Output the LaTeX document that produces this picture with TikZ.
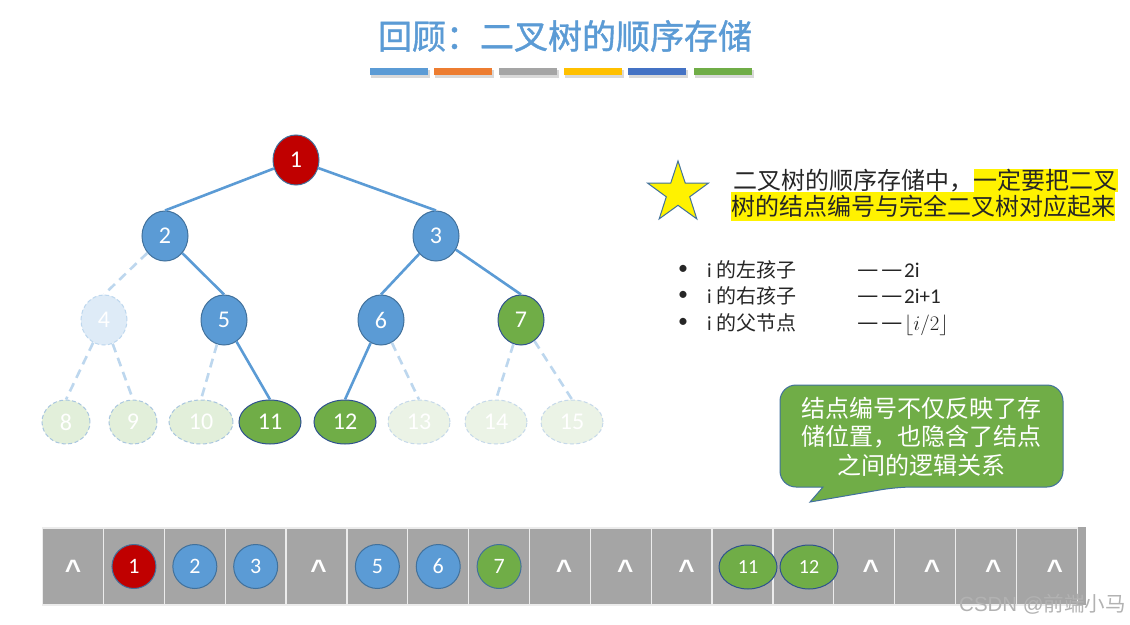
\documentclass[tikz,border=0pt]{standalone}
\usepackage{fontspec}
\setmainfont{Carlito}
\newfontfamily\cjk{Noto Sans CJK SC}
\newfontfamily\cjkbold[FakeBold=1.2]{Noto Sans CJK SC}
\newfontfamily\wmfont{Liberation Sans}
\usetikzlibrary{shapes.geometric}
\definecolor{tblue}{HTML}{5B9BD5}
\definecolor{nborder}{HTML}{41719C}
\definecolor{tred}{HTML}{C00000}
\definecolor{tgreen}{HTML}{70AD47}
\definecolor{gborder}{HTML}{2F528F}
\definecolor{lblue}{HTML}{DEEBF7}
\definecolor{dashc}{HTML}{BDD7EE}
\definecolor{ghostA}{HTML}{A9C6DF}
\definecolor{ghostB}{HTML}{C6D9EA}
\definecolor{lgreenA}{HTML}{E2EFDA}
\definecolor{lgreenB}{HTML}{EBF3E6}
\definecolor{cellgray}{HTML}{A5A5A5}
\definecolor{barorange}{HTML}{ED7D31}
\definecolor{bargray}{HTML}{A5A5A5}
\definecolor{baryellow}{HTML}{FFC000}
\definecolor{bardblue}{HTML}{4472C4}
\definecolor{textdark}{HTML}{262626}
\begin{document}
\begin{tikzpicture}[x=1pt,y=-1pt,
  tnode/.style={ellipse, draw=nborder, line width=1pt, text=white, inner sep=0pt,
    minimum width=46pt, minimum height=50pt, font=\fontsize{24}{26}\selectfont},
  leaf/.style={tnode, minimum width=62pt, minimum height=44pt},
  ghostnode/.style={dashed, dash pattern=on 4pt off 2.5pt},
  tedge/.style={draw=tblue, line width=2.6pt},
  dedge/.style={draw=dashc, line width=2.6pt, dash pattern=on 9pt off 6pt},
  cellbox/.style={rectangle, fill=cellgray, draw=white!85!gray, line width=1.3pt,
    minimum width=60.85pt, minimum height=77pt, inner sep=0pt},
  caret/.style={anchor=base, inner sep=0pt, text=white, font=\wmfont\bfseries\fontsize{28}{28}\selectfont},
  anode/.style={ellipse, draw=nborder, line width=1pt, text=white, inner sep=0pt,
    minimum width=44pt, minimum height=44pt, font=\fontsize{22}{24}\selectfont},
  rtext/.style={anchor=base west, inner sep=0pt, text=textdark, font=\fontsize{20}{22}\selectfont},
  dashtext/.style={anchor=base west, inner sep=0pt, text=textdark, font=\fontsize{21}{22}\selectfont},
]
\useasboundingbox (0,0) rectangle (1130,624);
\fill[white] (0,0) rectangle (1130,624);

% title
\node[font=\cjkbold\fontsize{34}{36}\selectfont, text=tblue] (title) at (565,36) {回顾：二叉树的顺序存储};
\foreach \x/\c in {370/tblue,434/barorange,499/bargray,564/baryellow,628/bardblue,694/tgreen} {
  \fill[black, opacity=0.15] (\x+1,70) rectangle (\x+60,77.5);
  \fill[\c] (\x,68) rectangle (\x+58,75);
}

% tree nodes
\node[tnode, fill=tred] (n1) at (296,160) {1};
\node[tnode, fill=tblue] (n2) at (165,236) {2};
\node[tnode, fill=tblue] (n3) at (436,236) {3};
\node[tnode, ghostnode, fill=lblue, draw=dashc] (n4) at (104,320) {4};
\node[tnode, fill=tblue] (n5) at (224,320) {5};
\node[tnode, fill=tblue] (n6) at (381,320) {6};
\node[tnode, fill=tgreen, draw=gborder] (n7) at (521,320) {7};
\node[leaf, ghostnode, fill=lgreenA, draw=ghostA, minimum width=48pt] (n8) at (66,422) {8};
\node[leaf, ghostnode, fill=lgreenA, draw=ghostA, minimum width=48pt] (n9) at (133,422) {9};
\node[leaf, ghostnode, fill=lgreenA, draw=ghostA, minimum width=64pt] (n10) at (201,422) {10};
\node[leaf, fill=tgreen, draw=gborder] (n11) at (270,422) {11};
\node[leaf, fill=tgreen, draw=gborder] (n12) at (345,422) {12};
\node[leaf, ghostnode, fill=lgreenB, draw=ghostB] (n13) at (419,422) {13};
\node[leaf, ghostnode, fill=lgreenB, draw=ghostB] (n14) at (496,422) {14};
\node[leaf, ghostnode, fill=lgreenB, draw=ghostB] (n15) at (572,422) {15};

% tree edges
\draw[tedge] (n1) -- (n2.north);
\draw[tedge] (n1) -- (n3.north);
\draw[tedge] (n2) -- (n5.north);
\draw[tedge] (n3) -- (n6.north);
\draw[tedge] (n3) -- (n7.north);
\draw[tedge] (n5) -- (n11.north);
\draw[tedge] (n6) -- (n12.north);
\draw[dedge] (n2) -- (n4.north);
\draw[dedge] (n4) -- (n8.north);
\draw[dedge] (n4) -- (n9.north);
\draw[dedge] (n5) -- (n10.north);
\draw[dedge] (n6) -- (n13.north);
\draw[dedge] (n7) -- (n14.north);
\draw[dedge] (n7) -- (n15.north);

% star and note
\node[star, star points=5, star point ratio=2.6, minimum size=64pt, inner sep=0pt,
  fill=yellow, draw=nborder, line width=1pt] (star) at (678,193) {};
\node[anchor=west, inner sep=0pt, minimum height=23pt, text=textdark,
  font=\cjk\fontsize{24}{24}\selectfont] (t1a) at (733,180.5) {二叉树的顺序存储中，};
\node[anchor=west, inner sep=0pt, minimum height=23pt, fill=yellow, text=textdark,
  font=\cjk\fontsize{24}{24}\selectfont] (t1b) at (t1a.east) {一定要把二叉};
\node[anchor=west, inner sep=0pt, minimum height=29pt, fill=yellow, text=textdark,
  font=\cjk\fontsize{24}{24}\selectfont] (t2) at (731,206) {树的结点编号与完全二叉树对应起来};

% bullet list
\node[inner sep=0pt, text=textdark, font=\fontsize{20}{22}\selectfont] (b1) at (683,270) {•};
\node[inner sep=0pt, text=textdark, font=\fontsize{20}{22}\selectfont] (b2) at (683,296) {•};
\node[inner sep=0pt, text=textdark, font=\fontsize{20}{22}\selectfont] (b3) at (683,323) {•};
\node[rtext] (l1) at (707,277) {i {\cjk 的左孩子}};
\node[rtext] (l2) at (707,303) {i {\cjk 的右孩子}};
\node[rtext] (l3) at (707,330) {i {\cjk 的父节点}};
\node[dashtext] (r1) at (857,277) {{\cjk\fontsize{24}{24}\selectfont —\kern3pt—}\kern1pt2i};
\node[dashtext] (r2) at (857,303) {{\cjk\fontsize{24}{24}\selectfont —\kern3pt—}\kern1pt2i+1};
\node[dashtext] (r3) at (857,330) {{\cjk\fontsize{24}{24}\selectfont —\kern3pt—}\kern1pt$\lfloor i/2\rfloor$};

% callout
\draw[fill=tgreen, draw=nborder, line width=1pt, rounded corners=16pt]
  (920,385) -- (1063,385) -- (1063,487) -- (897,487) [sharp corners] -- (810,502) -- (823,487)
  [rounded corners=16pt] -- (780,487) -- (780,385) -- cycle;
\node[align=center, text=white, inner sep=0pt, font=\cjk\fontsize{24}{28.5}\selectfont] (ctext) at (921,436.5)
  {结点编号不仅反映了存\\储位置，也隐含了结点\\之间的逻辑关系};

% array
\foreach \i in {0,...,16} {
  \node[cellbox] (c\i) at ({42.7+60.85*(\i+0.5)},566.5) {};
}
\node[cellbox, minimum width=8pt, minimum height=78pt, draw=none] (cx) at (1081.5,566) {};
\foreach \i in {0,4,8,9,10,13,14,15,16} {
  \node[caret] (h\i) at ({42.7+60.85*(\i+0.5)+0.5*\i},579) {\textasciicircum};
}
\node[anode, fill=tred] (a1) at (c1) {1};
\node[anode, fill=tblue] (a2) at (c2) {2};
\node[anode, fill=tblue] (a3) at (c3) {3};
\node[anode, fill=tblue] (a5) at (c5) {5};
\node[anode, fill=tblue] (a6) at (c6) {6};
\node[anode, fill=tgreen] (a7) at (c7) {7};
\node[anode, fill=tgreen, draw=gborder, minimum width=58pt, font=\fontsize{20}{22}\selectfont] (a11) at (748,567) {11};
\node[anode, fill=tgreen, draw=gborder, minimum width=58pt, font=\fontsize{20}{22}\selectfont] (a12) at (809,567) {12};

% watermark
\node[anchor=east, inner sep=0pt, text=gray!60, font=\fontsize{20.5}{22}\selectfont] (wm) at (1126,604)
  {\wmfont CSDN @{\cjk 前端小马}};
\end{tikzpicture}
\end{document}
